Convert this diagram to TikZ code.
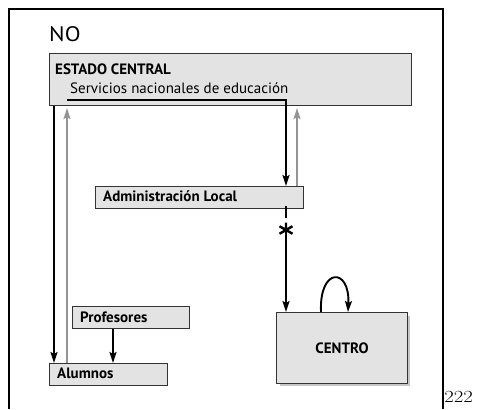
\documentclass[tikz,border=0pt]{standalone}
\usepackage{fontspec}
\newfontfamily\diagfont{PT Sans}
\usetikzlibrary{arrows.meta,calc}
\begin{document}
\begin{tikzpicture}[x=1pt,y=-1pt,
  box/.style={draw=black!80,line width=1.1pt,fill=black!11,inner sep=0pt,anchor=north west},
  lbl/.style={anchor=base west,inner sep=0pt,font=\diagfont\fontsize{15}{17}\selectfont\bfseries},
  txt/.style={anchor=base west,inner sep=0pt,font=\diagfont\fontsize{15}{17}\selectfont},
  flow/.style={line width=1.9pt,-{Stealth[length=11pt,width=7pt,inset=2pt]}},
  back/.style={flow,draw=black!42,fill=black!42},
]
\useasboundingbox (0,0) rectangle (478,409);

% outer frame, open at the bottom
\draw[line width=2pt] (9,409) -- (9,9) -- (443,9) -- (443,409);
\node[anchor=base west,inner sep=0pt,font=\diagfont\fontsize{21}{24}\selectfont,xscale=1.1] (no) at (49,42) {NO};

% boxes
\node[box,minimum width=362pt,minimum height=52pt] (estado) at (49,53) {};
\node[box,minimum width=208pt,minimum height=22pt] (admin) at (95,186) {};
\node[box,minimum width=117pt,minimum height=22pt] (prof) at (72,306) {};
\node[box,minimum width=118pt,minimum height=22pt] (alum) at (49,363) {};
\fill[black!22] (280,316) rectangle (410,386);
\node[box,minimum width=131pt,minimum height=71pt] (centro) at (276,312) {};

% box labels
\node[lbl] (estadotxt) at ($(estado.north west)+(6,22)$) {ESTADO CENTRAL};
\node[txt] (servtxt) at ($(estado.north west)+(21,40)$) {Servicios nacionales de educación};
\node[lbl] (admintxt) at ($(admin.north west)+(8,15)$) {Administración Local};
\node[lbl] (proftxt) at ($(prof.north west)+(8,16)$) {Profesores};
\node[lbl] (alumtxt) at ($(alum.north west)+(8,15)$) {Alumnos};
\node[font=\diagfont\fontsize{15}{17}\selectfont\bfseries,inner sep=0pt] (centrotxt) at (centro.center) {CENTRO};

% page number
\node[anchor=base west,inner sep=0pt,font=\fontsize{17}{20}\selectfont,xscale=1.22] (pagenum) at (444,402) {222};

% underline of the national services, leading down to local administration
\coordinate (ulstart) at ($(estado.south west)+(18,-6)$);
\coordinate (ulend) at ($(estado.south west)+(237,-6)$);
\draw[flow,line join=miter] (ulstart) -- (ulend) -- ($(admin.north west)+(191,0)$);
\draw[back] ($(admin.north west)+(202,0)$) -- ($(estado.south west)+(248,2)$);

% state to pupils and back
\draw[flow] ($(estado.south west)+(5,0)$) -- ($(alum.north west)+(5,0)$);
\draw[back] ($(alum.north west)+(18,0)$) -- ($(estado.south west)+(18,2)$);

% teachers to pupils
\draw[flow] ($(prof.south west)+(41,0)$) -- ($(alum.north west)+(64,0)$);

% local administration to the school, through the asterisk
\node[minimum size=24pt,inner sep=0pt] (ast) at (286,230) {};
\draw[line width=2.4pt] (ast.center) -- +(270:7.5) (ast.center) -- +(330:7.5) (ast.center) -- +(210:7.5)
  (ast.center) -- +(30:7.5) (ast.center) -- +(150:7.5);
\draw[line width=1.9pt] ($(admin.south west)+(191,-3)$) -- (ast.north);
\draw[flow] (ast.center) -- ($(centro.north west)+(10,0)$);

% the school acting on itself
\draw[flow] ($(centro.north west)+(45,0)$) .. controls (319,267) and (350,267) .. ($(centro.north west)+(72,0)$);
\end{tikzpicture}
\end{document}
